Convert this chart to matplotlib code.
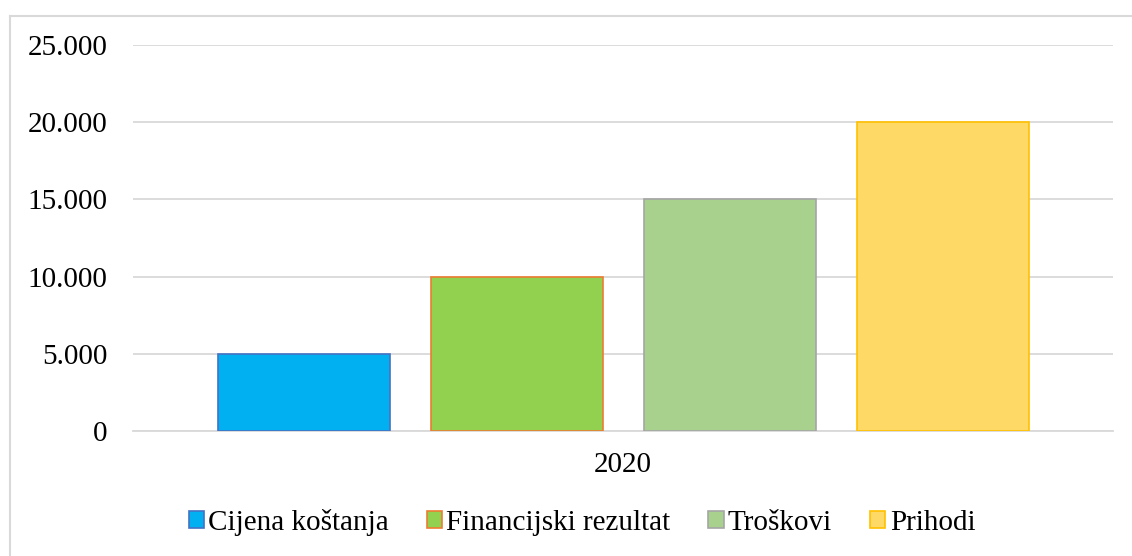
import numpy as np
import matplotlib.pyplot as plt
from matplotlib.lines import Line2D

# data
series = ["Cijena koštanja", "Financijski rezultat", "Troškovi", "Prihodi"]
values = [5000, 10000, 15000, 20000]
category = "2020"
fill_colors = ["#00B0F0", "#92D050", "#A9D18E", "#FFD966"]
edge_colors = ["#4472C4", "#ED7D31", "#A5A5A5", "#FFC000"]
yticks = [0, 5000, 10000, 15000, 20000, 25000]
ytick_labels = ["0", "5.000", "10.000", "15.000", "20.000", "25.000"]

plt.rcParams['font.family'] = ['Liberation Serif', 'DejaVu Serif']

W, H = 1132, 556
fig = plt.figure(figsize=(W / 100, H / 100), dpi=100)
ax = fig.add_axes([133 / W, 1 - 431 / H, (1113 - 133) / W, (431 - 45) / H])

# outer chart border (left and top only visible)
fig.add_artist(Line2D([9.5 / W, 9.5 / W], [0, 1 - 16 / H], color="#D9D9D9", lw=1.5))
fig.add_artist(Line2D([9.5 / W, 1], [1 - 16 / H, 1 - 16 / H], color="#D9D9D9", lw=1.5))

width = 172 / 980
step = 213 / 980
for i, (name, v) in enumerate(zip(series, values)):
    x = 0.5 + (i - 1.5) * step
    ax.bar(x, v, width=width, color=fill_colors[i], edgecolor=edge_colors[i],
           linewidth=1.2, label=name, zorder=3)

ax.set_xlim(0, 1)
ax.set_ylim(0, 25000)
ax.set_yticks(yticks)
ax.set_yticklabels(ytick_labels)
ax.set_xticks([0.5])
ax.set_xticklabels([category])
ax.yaxis.grid(True, color="#D9D9D9", lw=1.3, zorder=0)
for s in ["top", "right", "left"]:
    ax.spines[s].set_visible(False)
ax.spines["bottom"].set_color("#D9D9D9")
ax.spines["bottom"].set_linewidth(1.3)
ax.tick_params(axis="both", length=0, labelsize=21, colors="black")
ax.tick_params(axis="y", pad=18.5)
ax.tick_params(axis="x", pad=15)

ax.legend(loc="center", bbox_to_anchor=(582 / W, 1 - 522 / H),
          bbox_transform=fig.transFigure, ncol=4, frameon=False,
          fontsize=21, handlelength=0.52, handleheight=0.52,
          handletextpad=0.15, columnspacing=1.3, borderpad=0)

fig.savefig("out.png", dpi=100)
